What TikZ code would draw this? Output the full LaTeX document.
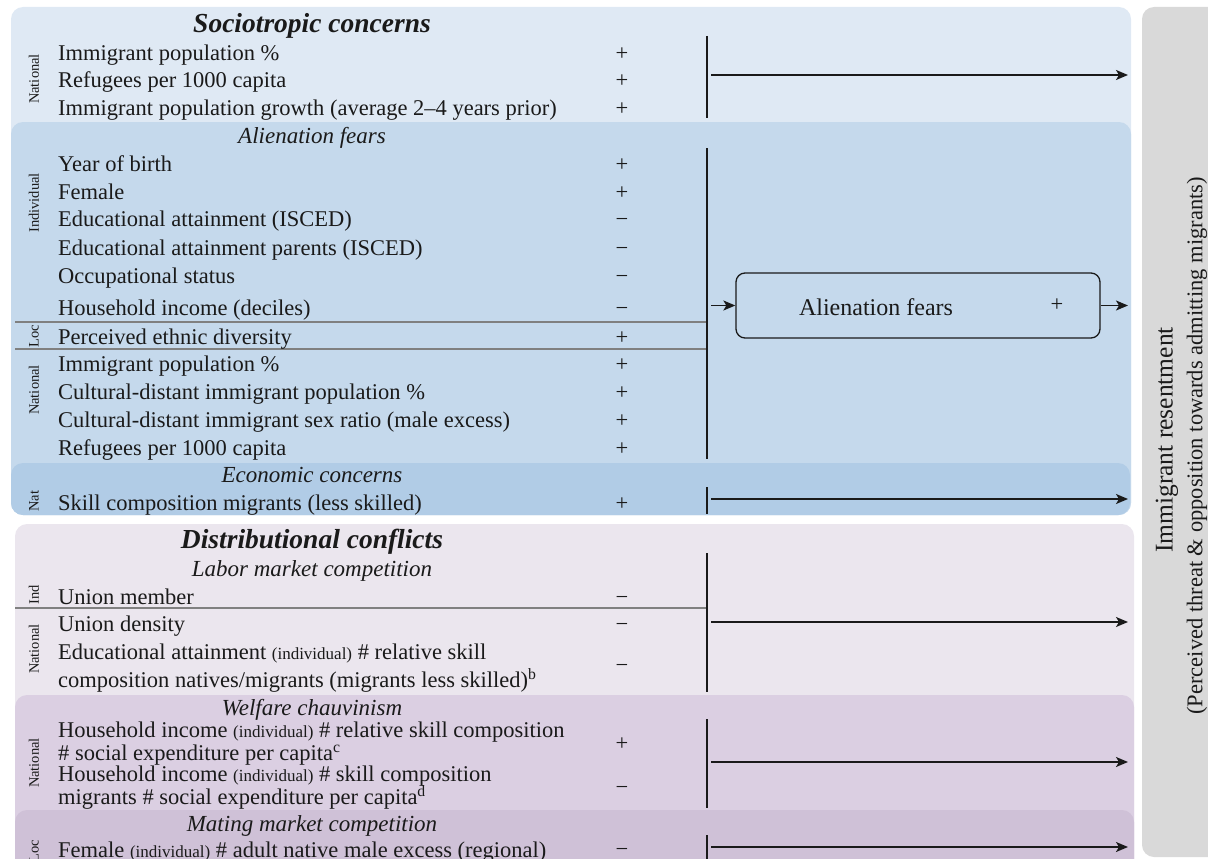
\documentclass[tikz,border=0pt]{standalone}
\usepackage{fontspec}
\setmainfont{Liberation Serif}
\usetikzlibrary{arrows.meta}
\definecolor{socio}{HTML}{DFE9F4}
\definecolor{alien}{HTML}{C5D9EC}
\definecolor{econ}{HTML}{B1CCE6}
\definecolor{distr}{HTML}{EBE6EE}
\definecolor{welf}{HTML}{DBCFE2}
\definecolor{mating}{HTML}{CFC1D7}
\definecolor{outc}{HTML}{D9D9D9}
\definecolor{ink}{HTML}{1A1A1A}
\begin{document}
\begin{tikzpicture}[x=1pt,y=-1pt,
  txt/.style={anchor=base west, inner sep=0pt, yshift=-1.5pt, text=ink, font=\fontsize{22.5}{26}\selectfont},
  sgn/.style={anchor=base, inner sep=0pt, yshift=-1.5pt, text=ink, font=\fontsize{22.5}{26}\selectfont},
  ttl/.style={anchor=base, inner sep=0pt, yshift=-1.5pt, text=ink, font=\fontsize{23}{27}\selectfont\itshape},
  bigttl/.style={anchor=base, inner sep=0pt, yshift=-1.5pt, text=ink, font=\fontsize{27.5}{30}\selectfont\bfseries\itshape},
  lvl/.style={rotate=90, inner sep=0pt, text=ink, font=\fontsize{14.5}{16}\selectfont},
  panel/.style={rounded corners=12pt},
  sepline/.style={draw=black!50, line width=1.2pt},
  vbar/.style={draw=ink, line width=1.8pt},
  arr/.style={draw=ink, line width=1.6pt, -{Stealth[length=12pt,width=10pt,inset=3pt]}},
  afbox/.style={draw=ink, line width=1.3pt, rounded corners=9pt, minimum width=364pt, minimum height=65pt, inner sep=0pt},
]
\newcommand{\sm}[1]{{\fontsize{17}{20}\selectfont #1}}
\useasboundingbox (0,0) rectangle (1208,859);
\clip (0,0) rectangle (1208,859);

% panels
\fill[socio,panel] (11,7) rectangle (1131,515);
\fill[alien,panel] (11,122) rectangle (1131,515);
\fill[econ,panel] (11,463) rectangle (1130,515);
\fill[distr,panel] (15,524) rectangle (1134,900);
\fill[welf,panel] (15,695) rectangle (1134,900);
\fill[mating,panel] (15,810) rectangle (1134,900);
\fill[outc,panel] (1142,7) rectangle (1240,857);

% separators
\draw[sepline] (15,322) -- (707,322);
\draw[sepline] (15,349) -- (707,349);
\draw[sepline] (15,608) -- (707,608);

% sociotropic
\node[bigttl] (tsoc) at (312,31) {Sociotropic concerns};
\node[lvl] (lsoc) at (34,79) {National};
\node[txt] (r1) at (58,59) {Immigrant population \%};
\node[txt] (r2) at (58,86) {Refugees per 1000 capita};
\node[txt] (r3) at (58,114) {Immigrant population growth (average 2–4 years prior)};
\node[sgn] (s1) at (622,59) {+};
\node[sgn] (s2) at (622,86) {+};
\node[sgn] (s3) at (622,114) {+};
\coordinate (v1a) at (707,36); \coordinate (v1b) at (707,118);
\draw[vbar] (v1a) -- (v1b);
\coordinate (a1s) at (711,75); \coordinate (a1e) at (1128,75);
\draw[arr] (a1s) -- (a1e);

% alienation
\node[ttl] (talien) at (312,142) {Alienation fears};
\node[lvl] (lind) at (34,203) {Individual};
\node[lvl] (lloc) at (34,336) {Loc};
\node[lvl] (lnat2) at (34,390) {National};
\node[txt] (r4) at (58,170) {Year of birth};
\node[txt] (r5) at (58,198) {Female};
\node[txt] (r6) at (58,225) {Educational attainment (ISCED)};
\node[txt] (r7) at (58,254) {Educational attainment parents (ISCED)};
\node[txt] (r8) at (58,282) {Occupational status};
\node[txt] (r9) at (58,314) {Household income (deciles)};
\node[txt] (r10) at (58,343) {Perceived ethnic diversity};
\node[txt] (r11) at (58,370) {Immigrant population \%};
\node[txt] (r12) at (58,398) {Cultural-distant immigrant population \%};
\node[txt] (r13) at (58,426) {Cultural-distant immigrant sex ratio (male excess)};
\node[txt] (r14) at (58,454) {Refugees per 1000 capita};
\node[sgn] (s4) at (622,170) {+};
\node[sgn] (s5) at (622,198) {+};
\node[sgn] (s6) at (622,225) {−};
\node[sgn] (s7) at (622,254) {−};
\node[sgn] (s8) at (622,282) {−};
\node[sgn] (s9) at (622,314) {−};
\node[sgn] (s10) at (622,343) {+};
\node[sgn] (s11) at (622,370) {+};
\node[sgn] (s12) at (622,398) {+};
\node[sgn] (s13) at (622,426) {+};
\node[sgn] (s14) at (622,454) {+};
\coordinate (v2a) at (707,148); \coordinate (v2b) at (707,459);
\draw[vbar] (v2a) -- (v2b);
\node[afbox] (afb) at (918,305.5) {};
\node[anchor=center, inner sep=0pt, text=ink, font=\fontsize{24}{28}\selectfont] (afl) at (876,307) {Alienation fears};
\node[anchor=center, inner sep=0pt, text=ink, font=\fontsize{22.5}{26}\selectfont] (afs) at (1057,305) {+};
\coordinate (a2s) at (711,305.5);
\draw[arr] (a2s) -- (afb.west);
\coordinate (a3e) at (1128,305.5);
\draw[arr] (afb.east) -- (a3e);

% economic
\node[ttl] (tecon) at (312,481) {Economic concerns};
\node[lvl] (lnat3) at (34,501) {Nat};
\node[txt] (r15) at (58,509) {Skill composition migrants (less skilled)};
\node[sgn] (s15) at (622,509) {+};
\coordinate (v3a) at (707,487); \coordinate (v3b) at (707,514);
\draw[vbar] (v3a) -- (v3b);
\coordinate (a4s) at (711,499); \coordinate (a4e) at (1128,499);
\draw[arr] (a4s) -- (a4e);

% distributional / labor
\node[bigttl] (tdist) at (312,547) {Distributional conflicts};
\node[ttl] (tlab) at (312,575) {Labor market competition};
\node[lvl] (lind2) at (34,595) {Ind};
\node[lvl] (lnat4) at (34,649) {National};
\node[txt] (r16) at (58,603) {Union member};
\node[txt] (r17) at (58,630) {Union density};
\node[txt] (r18) at (58,658) {Educational attainment \sm{(individual)} \# relative skill};
\node[txt] (r19) at (58,686) {composition natives/migrants (migrants less skilled)\textsuperscript{b}};
\node[sgn] (s16) at (622,603) {−};
\node[sgn] (s17) at (622,630) {−};
\node[sgn] (s18) at (622,671) {−};
\coordinate (v4a) at (707,553); \coordinate (v4b) at (707,692);
\draw[vbar] (v4a) -- (v4b);
\coordinate (a5s) at (711,622); \coordinate (a5e) at (1128,622);
\draw[arr] (a5s) -- (a5e);

% welfare
\node[ttl] (twelf) at (312,714) {Welfare chauvinism};
\node[lvl] (lnat5) at (34,763) {National};
\node[txt] (r20) at (58,736) {Household income \sm{(individual)} \# relative skill composition};
\node[txt] (r21) at (58,759) {\# social expenditure per capita\textsuperscript{c}};
\node[txt] (r22) at (58,780) {Household income \sm{(individual)} \# skill composition};
\node[txt] (r23) at (58,803) {migrants \# social expenditure per capita\textsuperscript{d}};
\node[sgn] (s20) at (622,749) {+};
\node[sgn] (s21) at (622,793) {−};
\coordinate (v5a) at (707,719); \coordinate (v5b) at (707,808);
\draw[vbar] (v5a) -- (v5b);
\coordinate (a6s) at (711,762); \coordinate (a6e) at (1128,762);
\draw[arr] (a6s) -- (a6e);

% mating
\node[ttl] (tmat) at (312,830) {Mating market competition};
\node[lvl] (lloc2) at (34,851) {Loc};
\node[txt] (r24) at (58,856) {Female \sm{(individual)} \# adult native male excess (regional)};
\node[sgn] (s24) at (622,855) {−};
\coordinate (v6a) at (707,835); \coordinate (v6b) at (707,870);
\draw[vbar] (v6a) -- (v6b);
\coordinate (a7s) at (711,847); \coordinate (a7e) at (1128,847);
\draw[arr] (a7s) -- (a7e);

% outcome
\node[rotate=90, inner sep=0pt, text=ink, font=\fontsize{25.5}{28}\selectfont] (out1) at (1167,440) {Immigrant resentment};
\node[rotate=90, inner sep=0pt, text=ink, font=\fontsize{22.5}{26}\selectfont] (out2) at (1197,446) {(Perceived threat \& opposition towards admitting migrants)};
\end{tikzpicture}
\end{document}
